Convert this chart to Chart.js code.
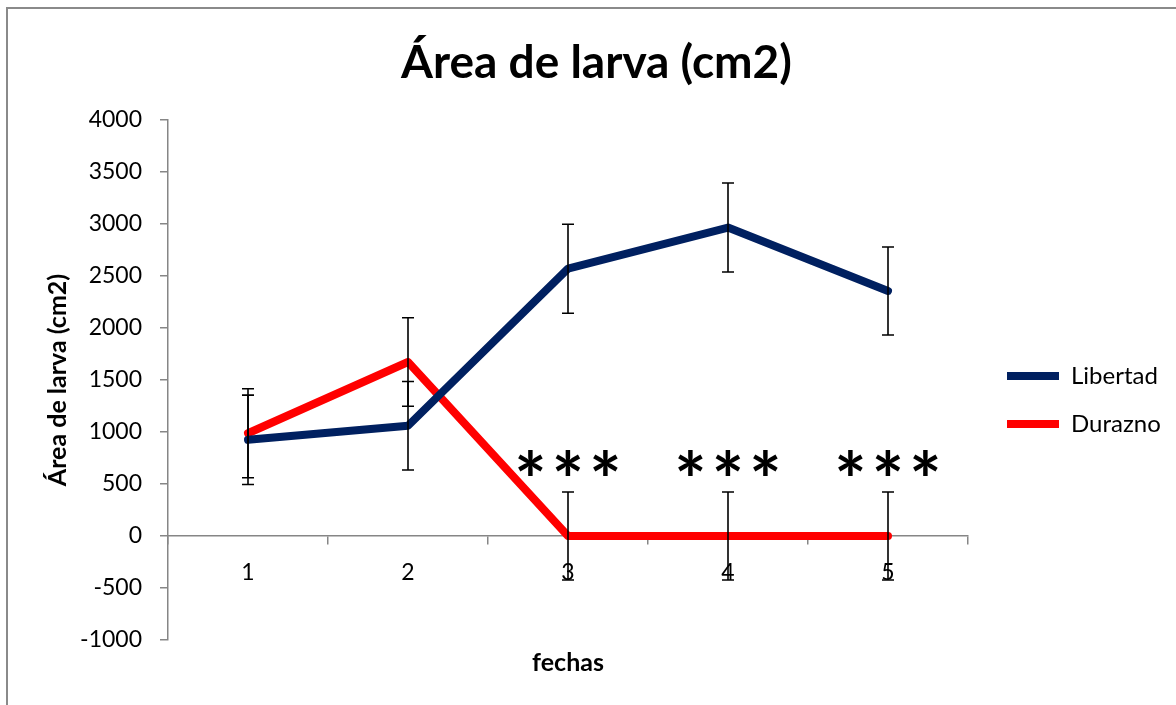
<!DOCTYPE html>
<html>
<head>
<meta charset="utf-8">
<script src="https://cdn.jsdelivr.net/npm/chart.js@4.4.0/dist/chart.umd.min.js"></script>
<style>
  html, body { margin: 0; padding: 0; background: #ffffff; overflow: hidden; }
  #frame {
    position: absolute; left: 6px; top: 7px; width: 1300px; height: 900px;
    border-left: 2px solid #8a8a8a; border-top: 2px solid #8a8a8a;
  }
  #chart { position: absolute; left: 0; top: 0; }
</style>
</head>
<body>
<div id="frame"></div>
<canvas id="chart" width="1176" height="705"></canvas>
<script>
// Sampling dates and mean larval area (cm2) per site
const fechas = ['1', '2', '3', '4', '5'];
const libertad = [925, 1060, 2570, 2966, 2356];
const durazno = [988, 1673, 0, 0, 0];
// Error bar half-widths
const libertadError = [430, 425, 428, 428, 423];
const duraznoError = [428, 425, 423, 423, 423];
// Significance marks shown above the Durazno error bars
const significance = ['', '', '***', '***', '***'];

const AXIS_GREY = '#868686';
const FONT = 'Lato';

// Plot frame: left edge of the plot area, room kept to its right, gap before the legend
const PLOT_LEFT = 168;
const RIGHT_ZONE = 208;
const LEGEND_GAP = 15;
const YTITLE_X = 58;
const frame = { left: 17, right: 0 };

// Vertical error bars with caps, drawn on top of everything
const errorBars = {
  id: 'errorBars',
  afterDraw(chart, args, opts) {
    const { ctx, scales: { x, y } } = chart;
    ctx.save();
    ctx.strokeStyle = opts.color;
    ctx.lineWidth = opts.width;
    chart.data.datasets.forEach(ds => {
      ds.errors.forEach((e, j) => {
        const px = x.getPixelForValue(j);
        const top = y.getPixelForValue(ds.data[j] + e);
        const bot = y.getPixelForValue(ds.data[j] - e);
        ctx.beginPath();
        ctx.moveTo(px, top); ctx.lineTo(px, bot);
        ctx.moveTo(px - opts.cap, top); ctx.lineTo(px + opts.cap, top);
        ctx.moveTo(px - opts.cap, bot); ctx.lineTo(px + opts.cap, bot);
        ctx.stroke();
      });
    });
    ctx.restore();
  }
};

// "***" marks centred above the upper error bar of a dataset
const sigMarks = {
  id: 'sigMarks',
  afterDraw(chart, args, opts) {
    const { ctx, scales: { x, y } } = chart;
    const ds = chart.data.datasets[opts.dataset];
    ctx.save();
    ctx.fillStyle = opts.color;
    ctx.font = opts.font;
    ctx.textAlign = 'center';
    ctx.textBaseline = 'alphabetic';
    const m = ctx.measureText('*');
    const shift = (m.actualBoundingBoxAscent - m.actualBoundingBoxDescent) / 2;
    opts.labels.forEach((txt, j) => {
      if (!txt) return;
      const cx = x.getPixelForValue(j);
      const cy = y.getPixelForValue(ds.data[j] + ds.errors[j]) - opts.gap;
      const chars = Array.from(txt);
      chars.forEach((ch, k) => {
        const dx = (k - (chars.length - 1) / 2) * opts.spacing;
        ctx.fillText(ch, cx + dx, cy + shift);
      });
    });
    ctx.restore();
  }
};

const lineStyle = { borderWidth: 8, tension: 0, borderJoinStyle: 'round', borderCapStyle: 'round', fill: false, pointRadius: 0 };

const chart = new Chart(document.getElementById('chart'), {
  type: 'line',
  data: {
    labels: fechas,
    datasets: [
      Object.assign({
        label: 'Libertad', data: libertad, errors: libertadError,
        borderColor: '#002060', backgroundColor: '#002060'
      }, lineStyle),
      Object.assign({
        label: 'Durazno', data: durazno, errors: duraznoError,
        borderColor: '#ff0000', backgroundColor: '#ff0000'
      }, lineStyle)
    ]
  },
  options: {
    responsive: false,
    animation: false,
    events: [],
    layout: { padding: { left: frame.left, right: frame.right, top: 0, bottom: 0 } },
    plugins: {
      title: {
        display: true,
        text: 'Área de larva (cm2)',
        color: '#000000',
        font: { family: FONT, size: 46, weight: 'bold', lineHeight: 1.2 },
        padding: { top: 35.4, bottom: 29.4 }
      },
      legend: {
        position: 'right',
        fullSize: false,
        title: { display: true, text: '', padding: { top: 30, bottom: 0 }, font: { size: 10, lineHeight: 1 } },
        labels: {
          usePointStyle: true,
          pointStyle: 'line',
          pointStyleWidth: 52,
          padding: 24,
          color: '#000000',
          font: { family: FONT, size: 24 }
        }
      },
      tooltip: { enabled: false },
      errorBars: { color: '#000000', width: 1.6, cap: 6 },
      sigMarks: { dataset: 1, labels: significance, color: '#000000', font: 'bold 76px ' + FONT, spacing: 37.5, gap: 30 }
    },
    scales: {
      x: {
        type: 'category',
        position: { y: 0 },
        offset: true,
        afterFit(s) { s.height = 0; },
        grid: { offset: true, drawOnChartArea: false, drawTicks: true, tickLength: 8, color: AXIS_GREY, lineWidth: 1.5 },
        border: { color: AXIS_GREY, width: 1.5 },
        ticks: { color: '#000000', font: { family: FONT, size: 23 }, padding: 15, maxRotation: 0, autoSkip: false }
      },
      xTitle: {
        type: 'category',
        position: 'bottom',
        afterFit(s) { s.height = 65; },
        grid: { display: false },
        border: { display: false },
        ticks: { display: false },
        title: {
          display: true, text: 'fechas', color: '#000000',
          font: { family: FONT, size: 25, weight: 'bold', lineHeight: 1.2 },
          padding: { top: 0, bottom: 27 }
        }
      },
      y: {
        type: 'linear',
        min: -1000,
        max: 4000,
        afterFit(s) { s.width = PLOT_LEFT - frame.left; },
        grid: { drawOnChartArea: false, drawTicks: true, tickLength: 8, color: AXIS_GREY, lineWidth: 1.5 },
        border: { color: AXIS_GREY, width: 1.5 },
        ticks: {
          stepSize: 500, color: '#000000', font: { family: FONT, size: 23 }, padding: 18,
          callback: v => String(v)
        },
        title: {
          display: true, text: 'Área de larva (cm2)', color: '#000000',
          font: { family: FONT, size: 25, weight: 'bold', lineHeight: 1.2 },
          padding: { top: YTITLE_X - 15 - frame.left, bottom: 0 }
        }
      },
      legendGap: {
        type: 'linear', position: 'right', weight: 0,
        afterFit(s) { s.width = LEGEND_GAP; },
        grid: { display: false }, border: { display: false }, ticks: { display: false }
      }
    }
  },
  plugins: [errorBars, sigMarks]
});

// Balance the outer margins once the legend has measured itself, so the
// plot keeps its width and the title stays centred over the whole frame.
const slack = Math.max(0, RIGHT_ZONE - LEGEND_GAP - chart.legend.width);
frame.left = 17 + slack;
frame.right = slack;
chart.options.layout.padding = { left: frame.left, right: frame.right, top: 0, bottom: 0 };
chart.options.scales.y.title.padding = { top: YTITLE_X - 15 - frame.left, bottom: 0 };
chart.update();
</script>
</body>
</html>
